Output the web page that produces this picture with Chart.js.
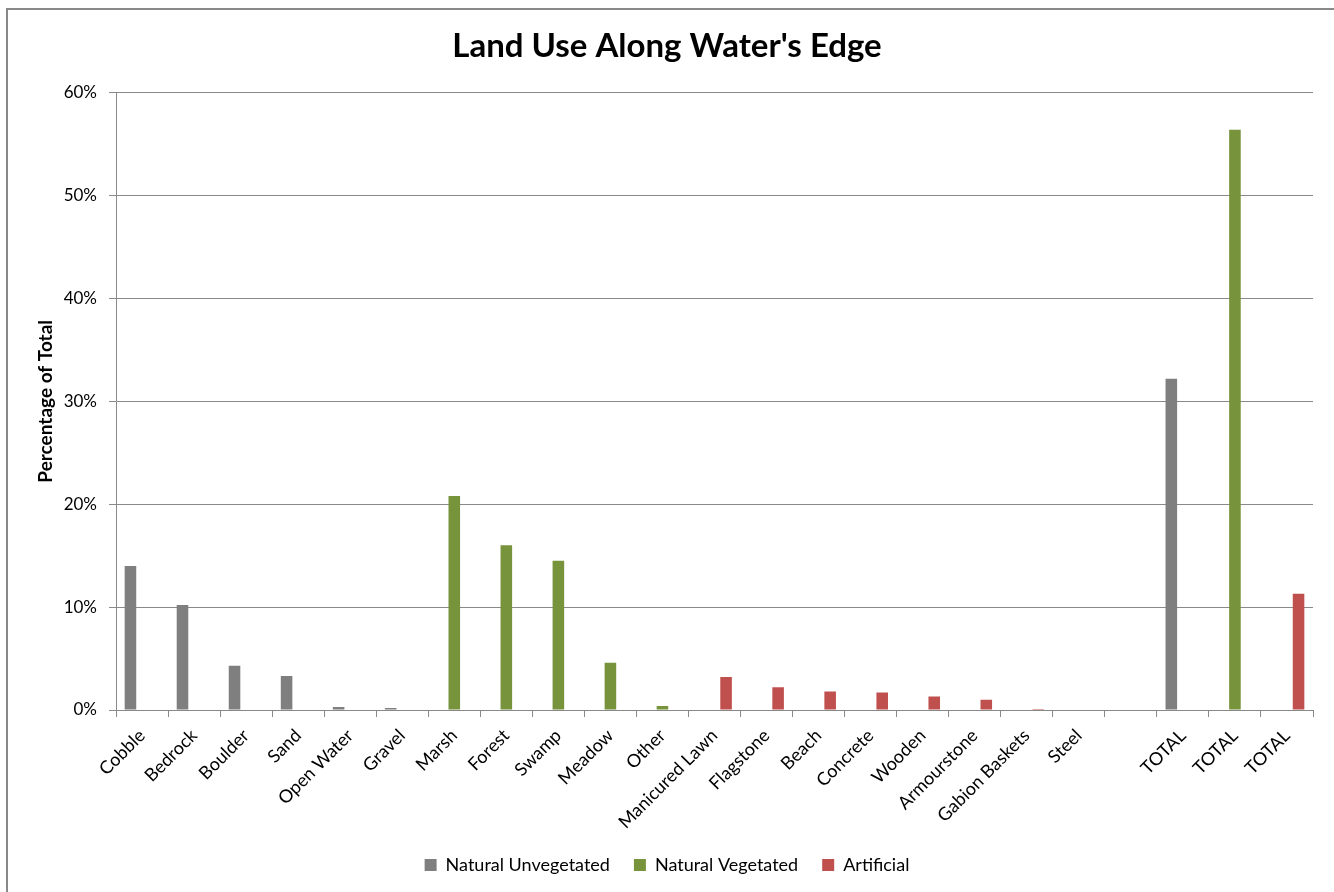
<!DOCTYPE html>
<html>
<head>
<meta charset="utf-8">
<script src="https://cdn.jsdelivr.net/npm/chart.js@4.4.1/dist/chart.umd.min.js"></script>
<style>
  html, body { margin: 0; padding: 0; background: #fff; }
  #wrap { position: relative; width: 1334px; height: 892px; overflow: hidden; }
  #frame { position: absolute; left: 6px; top: 8px; width: 1400px; height: 1000px;
           border-left: 2px solid #898989; border-top: 2px solid #898989; pointer-events: none; }
  canvas { position: absolute; left: 0; top: 0; }
</style>
</head>
<body>
<div id="wrap">
  <canvas id="c" width="1334" height="892"></canvas>
  <div id="frame"></div>
</div>
<script>
const categories = ["Cobble", "Bedrock", "Boulder", "Sand", "Open Water", "Gravel",
  "Marsh", "Forest", "Swamp", "Meadow", "Other",
  "Manicured Lawn", "Flagstone", "Beach", "Concrete", "Wooden", "Armourstone", "Gabion Baskets", "Steel",
  "", "TOTAL", "TOTAL", "TOTAL"];

const naturalUnvegetated = [14.0, 10.2, 4.3, 3.3, 0.3, 0.2,
  null, null, null, null, null,
  null, null, null, null, null, null, null, null,
  null, 32.2, null, null];

const naturalVegetated = [null, null, null, null, null, null,
  20.8, 16.0, 14.5, 4.6, 0.4,
  null, null, null, null, null, null, null, null,
  null, null, 56.4, null];

const artificial = [null, null, null, null, null, null,
  null, null, null, null, null,
  3.2, 2.2, 1.8, 1.7, 1.3, 1.0, 0.1, 0.0,
  null, null, null, 11.3];

const seriesNames = ["Natural Unvegetated", "Natural Vegetated", "Artificial"];
const yTicks = [0, 10, 20, 30, 40, 50, 60];

const FONT = "Lato, 'Open Sans', sans-serif";

new Chart(document.getElementById('c'), {
  type: 'bar',
  data: {
    labels: categories,
    datasets: [
      { label: seriesNames[0], data: naturalUnvegetated, backgroundColor: '#7F7F7F' },
      { label: seriesNames[1], data: naturalVegetated, backgroundColor: '#77933C' },
      { label: seriesNames[2], data: artificial, backgroundColor: '#C0504D' }
    ]
  },
  options: {
    responsive: false,
    animation: false,
    layout: { padding: { left: 0, right: 0, top: 0, bottom: 8 } },
    datasets: { bar: { categoryPercentage: 0.667, barPercentage: 1.0, borderWidth: 0 } },
    plugins: {
      title: {
        display: true,
        text: "Land Use Along Water's Edge",
        color: '#000',
        font: { family: FONT, size: 33, weight: 'bold', lineHeight: 1.2 },
        padding: { top: 27, bottom: 26 }
      },
      legend: {
        position: 'bottom',
        labels: {
          color: '#000',
          font: { family: FONT, size: 18 },
          boxWidth: 12, boxHeight: 12,
          padding: 24
        }
      },
      tooltip: { enabled: false }
    },
    scales: {
      x: {
        afterFit: (s) => { s.height = 122; },
        grid: { drawOnChartArea: false, drawTicks: true, tickLength: 7, color: '#898989', offset: true },
        border: { display: true, color: '#898989', width: 1 },
        ticks: {
          color: '#000',
          font: { family: FONT, size: 18 },
          maxRotation: 45, minRotation: 45,
          autoSkip: false,
          padding: 8
        }
      },
      y: {
        min: 0, max: 60,
        afterFit: (s) => { s.width = 116; },
        afterBuildTicks: (s) => { s.ticks = yTicks.map(v => ({ value: v })); },
        grid: { color: '#898989', tickLength: 7, drawTicks: true },
        border: { display: true, color: '#898989', width: 1 },
        ticks: {
          color: '#000',
          font: { family: FONT, size: 17 },
          padding: 12,
          callback: (v) => v + '%'
        },
        title: {
          display: true,
          text: 'Percentage of Total',
          color: '#000',
          font: { family: FONT, size: 19, weight: 'bold' },
          padding: { top: 34, bottom: 0 }
        }
      },
      yRight: {
        position: 'right',
        display: true,
        min: 0, max: 60,
        afterFit: (s) => { s.width = 21; },
        grid: { display: false, drawOnChartArea: false },
        border: { display: false },
        ticks: { display: false }
      }
    }
  }
});
</script>
</body>
</html>
